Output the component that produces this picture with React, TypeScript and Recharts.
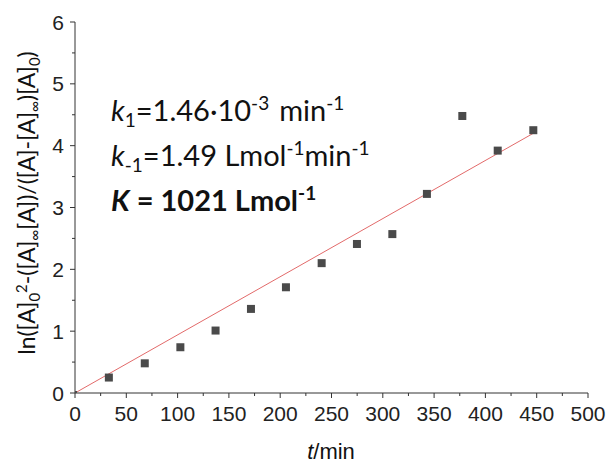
import React from "react";
import { ReferenceLine, Scatter, ScatterChart, XAxis, YAxis } from "recharts";

// measured points: time (min) and linearised concentration term
const times = [33, 68, 102.7, 137, 171.5, 205.6, 240.4, 274.8, 309.3, 343, 377.5, 412, 446.7];
const values = [0.25, 0.48, 0.74, 1.01, 1.36, 1.71, 2.1, 2.41, 2.57, 3.22, 4.48, 3.92, 4.25];
const origin = [{ t: 0, v: 0 }];

// linear fit through the origin, end points
const fitStart = { t: 0, v: 0 };
const fitEnd = { t: 446.7, v: 4.2 };

const xTicks = [0, 25, 50, 75, 100, 125, 150, 175, 200, 225, 250, 275, 300, 325, 350, 375, 400, 425, 450, 475, 500];
const yTicks = [0, 0.5, 1, 1.5, 2, 2.5, 3, 3.5, 4, 4.5, 5, 5.5, 6];

const points = times.map((t, i) => ({ t, v: values[i] }));

const AXIS = "#333";
const TICK_FONT = "'Liberation Sans', Arial, sans-serif";
const TEXT_FONT = "Lato, 'Open Sans', sans-serif";

const XTick = ({ x, y, payload }: any) => {
  const major = payload.value % 50 === 0;
  return (
    <g>
      <line x1={x} x2={x} y1={y} y2={y + (major ? 5 : 3)} stroke={AXIS} />
      {major && (
        <text x={x} y={y + 28} textAnchor="middle" fontSize={21} fontFamily={TICK_FONT} fill="#222">
          {payload.value}
        </text>
      )}
    </g>
  );
};

const YTick = ({ x, y, payload }: any) => {
  const major = payload.value % 1 === 0;
  return (
    <g>
      <line x1={x} x2={x - (major ? 5 : 3)} y1={y} y2={y} stroke={AXIS} />
      {major && (
        <text x={x - 11} y={y + 7.5} textAnchor="end" fontSize={21} fontFamily={TICK_FONT} fill="#222">
          {payload.value}
        </text>
      )}
    </g>
  );
};

const square = (size: number) => (props: any) =>
  <rect x={props.cx - size / 2} y={props.cy - size / 2} width={size} height={size} fill="#4a4a4a" />;

export default function App() {
  return (
    <div style={{ position: "absolute", left: 0, top: 0, width: 609, height: 464, background: "#fff" }}>
      <ScatterChart width={609} height={464} margin={{ top: 22, right: 21, left: 0, bottom: 0 }}>
        <XAxis
          type="number"
          dataKey="t"
          domain={[0, 500]}
          ticks={xTicks}
          interval={0}
          height={71}
          tickSize={0}
          tickMargin={0}
          tickLine={false}
          tick={<XTick />}
          axisLine={{ stroke: AXIS }}
          allowDataOverflow
        />
        <YAxis
          type="number"
          dataKey="v"
          domain={[0, 6]}
          ticks={yTicks}
          interval={0}
          width={75}
          tickSize={0}
          tickMargin={0}
          tickLine={false}
          tick={<YTick />}
          axisLine={{ stroke: AXIS }}
          allowDataOverflow
        />
        <ReferenceLine
          segment={[
            { x: fitStart.t, y: fitStart.v },
            { x: fitEnd.t, y: fitEnd.v },
          ]}
          stroke="#e26a6a"
          strokeWidth={1}
          ifOverflow="visible"
        />
        <Scatter data={origin} shape={square(4)} isAnimationActive={false} />
        <Scatter data={points} shape={square(8)} isAnimationActive={false} />
      </ScatterChart>

      <svg width={609} height={464} style={{ position: "absolute", left: 0, top: 0, pointerEvents: "none" }}>
        <g fontFamily={TEXT_FONT} fontSize={29} fill="#111">
          <text x={111} y={121}>
            <tspan fontStyle="italic">k</tspan>
            <tspan dy={6} fontSize={19}>1</tspan>
            <tspan dy={-6}>=1.46·10</tspan>
            <tspan dy={-11} fontSize={19}>-3</tspan>
            <tspan dy={11} dx={10}>min</tspan>
            <tspan dy={-11} fontSize={19}>-1</tspan>
          </text>
          <text x={111} y={166}>
            <tspan fontStyle="italic">k</tspan>
            <tspan dy={6} fontSize={19}>-1</tspan>
            <tspan dy={-6}>=1.49 Lmol</tspan>
            <tspan dy={-11} fontSize={19}>-1</tspan>
            <tspan dy={11}>min</tspan>
            <tspan dy={-11} fontSize={19}>-1</tspan>
          </text>
          <text x={111} y={211} fontWeight="bold">
            <tspan fontStyle="italic">K</tspan>
            <tspan> = 1021 Lmol</tspan>
            <tspan dy={-11} fontSize={19}>-1</tspan>
          </text>
        </g>
        <text
          transform="translate(35, 203) rotate(-90)"
          textAnchor="middle"
          fontFamily={TEXT_FONT}
          fontSize={23}
          fill="#111"
        >
          <tspan>ln([A]</tspan>
          <tspan dy={5} fontSize={15}>0</tspan>
          <tspan dy={-13} fontSize={15}>2</tspan>
          <tspan dy={8}>-([A]</tspan>
          <tspan dy={5} fontSize={15}>∞</tspan>
          <tspan dy={-5}>[A])/([A]-[A]</tspan>
          <tspan dy={5} fontSize={15}>∞</tspan>
          <tspan dy={-5}>)[A]</tspan>
          <tspan dy={5} fontSize={15}>0</tspan>
          <tspan dy={-5}>)</tspan>
        </text>
        <text x={331} y={459} textAnchor="middle" fontFamily={TICK_FONT} fontSize={22} fill="#111">
          <tspan fontStyle="italic">t</tspan>
          <tspan>/min</tspan>
        </text>
      </svg>
    </div>
  );
}
